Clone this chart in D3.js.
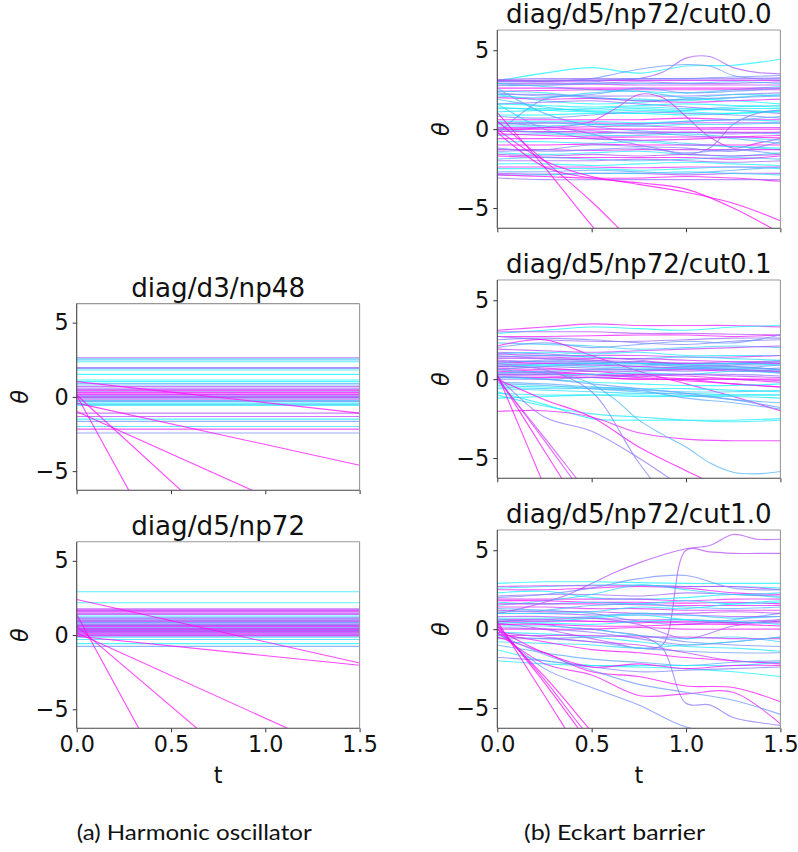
<!DOCTYPE html>
<html><head><meta charset="utf-8">
<script src="https://cdn.jsdelivr.net/npm/d3@7"></script>
<style>body{margin:0;background:#fff}svg{display:block}</style>
</head><body>
<svg id="chart" width="798" height="852"></svg>
<script>
// ---------- data ----------
const tTicks = [0, 0.5, 1.0, 1.5];
const thetaTicks = [-5, 0, 5];
const tDomain = [0, 1.5];
const thetaDomain = [-6.2832, 6.2832];
const titles = ["diag/d3/np48", "diag/d5/np72", "diag/d5/np72/cut0.0", "diag/d5/np72/cut0.1", "diag/d5/np72/cut1.0"];
const captions = ["(a) Harmonic oscillator", "(b) Eckart barrier"];
const xLabel = "t", yLabel = "θ";

// Harmonic oscillator: straight trajectories [colour 0..1, θ(t=0), θ(t=1.5)]
const hoD3np48 = [
 [0.65,2.63,2.63],[0.3,2.48,2.48],[0.05,2.37,2.37],[0.15,2.55,2.55],[0.45,1.92,1.92],[0.6,1.97,1.97],
 [0.1,1.81,1.81],[0.05,1.52,1.52],[0.0,1.14,1.14],[0.05,1.03,1.03],[0.3,0.9,0.9],[0.35,0.80,0.80],
 [0.7,0.69,0.69],[0.6,0.58,0.58],[0.75,0.5,0.5],[0.9,0.42,0.42],[0.55,0.35,0.35],[0.95,0.29,0.29],
 [1.0,0.20,0.20],[0.85,0.15,0.15],[0.6,0.11,0.11],[0.95,0.02,0.02],[0.4,0.0,0.0],[0.8,-0.05,-0.05],
 [0.5,-0.09,-0.09],[0.7,-0.20,-0.20],[0.25,-0.25,-0.25],[0.45,-0.31,-0.31],[0.05,-0.42,-0.42],
 [0.2,-0.5,-0.5],[0.1,-0.58,-0.58],[0.7,-1.09,-1.09],[0.75,-1.32,-1.32],[0.05,-1.50,-1.50],
 [0.4,-1.65,-1.65],[0.15,-1.99,-1.99],[0.9,-2.17,-2.17],[0.45,-2.43,-2.43],
 [1,1.03,-1.09],[1,-0.42,-4.60],[1,-0.98,-9.54],[1,0.13,-17.3],[1,0.10,-34.6]
];
const hoD5np72 = [
 [0.1,2.92,2.92],[0.05,2.18,2.18],[0.75,1.77,1.77],[0.65,1.7,1.7],[0.85,1.66,1.66],[0.65,1.6,1.6],
 [1.0,1.55,1.55],[0.7,1.46,1.46],[0.75,1.38,1.38],[0.05,1.28,1.28],[0.6,1.20,1.20],[0.2,1.15,1.15],
 [0.8,1.10,1.10],[0.4,1.02,1.02],[0.65,1.0,1.0],[0.7,0.95,0.95],[0.55,0.9,0.9],[0.9,0.88,0.88],
 [0.25,0.85,0.85],[0.5,0.80,0.80],[0.65,0.72,0.72],[0.3,0.68,0.68],[0.55,0.65,0.65],[0.9,0.62,0.62],
 [0.85,0.58,0.58],[0.35,0.50,0.50],[0.85,0.45,0.45],[0.7,0.42,0.42],[0.5,0.38,0.38],[0.95,0.35,0.35],
 [0.6,0.3,0.3],[0.6,0.28,0.28],[0.75,0.25,0.25],[0.8,0.20,0.20],[0.45,0.15,0.15],[1.0,0.12,0.12],
 [0.7,0.05,0.05],[0.6,0.0,0.0],[0.9,-0.02,-0.02],[0.55,-0.08,-0.08],[0.15,-0.15,-0.15],
 [0.15,-0.30,-0.30],[0.05,-0.58,-0.58],[0.4,-0.76,-0.76],
 [1,2.40,-1.88],[1,-0.08,-2.04],[1,1.39,-33.6],[1,0.6,-15.6],[1,0.15,-8.48]
];

// Eckart barrier: [colour 0..1, θ at evenly spaced t from 0 to 1.5]
const ekCut00 = [
 [0.05,3.06,3.55,3.9,3.55,4.0,4.05,4.43],
 [0.65,3.1,3.1,3.0,3.0,3.0,3.1,3.2,3.6,4.5,4.6,3.9,3.6,3.5],
 [0.4,3.0,3.0,3.0,3.1,3.2,3.5,3.8,4.0,4.1,4.0,3.4,3.2,3.2],
 [0.7,3.1,3.1,3.1,3.1,3.1,3.1,3.1],
 [0.85,3.05,3.05,3.1,3.1,3.1,3.1,3.1],
 [0.6,3.15,3.2,3.2,3.2,3.2,3.2,3.25],
 [0.45,3.0,3.1,3.1,3.2,3.2,3.3,3.4],
 [0.65,2.9,2.9,2.9,3.0,2.9,2.9,3.0],
 [0.1,2.9,2.7,2.5,2.4,2.3,2.5,2.7],
 [0.75,2.8,2.8,2.85,2.8,2.8,2.8,2.8],
 [0.3,2.75,2.8,2.9,2.9,2.9,3.0,2.9],
 [0.95,2.6,2.6,2.6,2.6,2.6,2.6,2.6],
 [0.9,2.4,2.45,2.5,2.5,2.5,2.5,2.5],
 [0.15,2.4,2.3,2.0,1.9,1.8,2.0,2.2],
 [0.4,2.3,2.1,2.2,2.6,2.3,2.4,2.6],
 [0.55,2.2,2.2,2.1,2.1,2.1,2.2,2.3],
 [0.05,2.2,1.8,1.6,1.7,1.9,1.8,1.6],
 [0.2,2.1,2.0,2.3,2.4,2.0,2.2,2.1],
 [0.9,2.0,1.9,1.95,1.8,1.7,1.8,1.9],
 [0.2,1.9,1.4,1.1,1.0,1.2,1.4,1.5],
 [0.6,1.6,1.7,1.8,1.6,1.4,1.2,1.0],
 [0.05,1.6,1.5,1.4,1.5,1.6,1.5,1.4],
 [0.0,1.4,1.2,1.1,1.2,1.1,1.0,1.2],
 [0.1,1.3,1.3,1.2,1.3,1.2,1.3,1.3],
 [0.1,1.1,1.2,1.3,1.4,1.3,1.2,1.1],
 [0.0,0.9,0.9,1.0,1.0,0.9,1.0,1.1],
 [0.45,0.8,0.7,0.9,1.1,1.0,0.9,0.7],
 [0.3,2.6,1.0,0.2,-0.1,-0.2,-0.2,-0.3],
 [0.2,1.6,0.0,-0.6,-0.7,-0.9,-1.1,-1.3],
 [0.4,-0.3,1.9,2.0,1.8,1.9,2.0,2.1],
 [1.0,0.6,0.6,0.6,0.6,0.7,0.6,0.6],
 [0.05,0.5,0.5,0.5,0.4,0.5,0.6,0.5],
 [0.75,0.4,0.4,0.4,0.35,0.4,0.4,0.4],
 [0.8,0.0,0.0,0.1,0.2,0.5,1.3,2.2,2.0,0.8,-0.5,-1.2,-0.9,-0.6],
 [0.5,0.4,0.3,0.2,0.0,-0.3,-0.7,-1.0,-1.3,-1.6,-1.2,0.3,1.0,1.2],
 [1.0,0.0,0.0,0.0,0.0,0.0,0.0,0.0],
 [0.8,0.1,0.1,0.15,0.2,0.1,0.1,0.1],
 [0.35,0.3,0.4,0.3,0.3,0.5,0.6,0.8],
 [0.15,0.2,0.2,0.3,0.2,0.3,0.3,0.4],
 [0.95,-0.15,-0.15,-0.2,-0.2,-0.2,-0.2,-0.2],
 [0.3,0.0,-0.2,-0.3,-0.2,-0.4,-0.6,-0.9],
 [0.6,-0.1,-0.2,-0.1,-0.3,-0.2,-0.3,-0.2],
 [0.2,-0.4,-0.3,-0.4,-0.4,-0.3,-0.5,-0.7],
 [1.0,-0.3,-0.4,-0.5,-0.5,-0.5,-0.5,-0.55],
 [0.9,-0.6,-0.6,-0.6,-0.7,-0.65,-0.5,-0.4],
 [0.1,-0.8,-0.8,-0.9,-0.8,-1.0,-1.1,-1.2],
 [1.0,-1.0,-1.0,-0.95,-1.0,-1.0,-1.0,-1.0],
 [0.85,-1.3,-1.3,-1.35,-1.3,-1.3,-1.3,-1.3],
 [0.5,-1.4,-1.3,-1.0,-1.1,-1.2,-1.4,-0.8],
 [0.45,-1.2,-1.4,-1.3,-1.2,-1.5,-1.3,-1.6],
 [0.1,-1.5,-1.6,-1.5,-1.4,-1.6,-1.7,-1.5],
 [0.7,-1.6,-1.7,-1.6,-1.7,-1.6,-1.7,-1.6],
 [0.95,-1.7,-1.8,-1.8,-1.8,-1.8,-1.9,-1.7],
 [0.25,-1.9,-1.8,-1.9,-2.0,-1.9,-1.8,-1.9],
 [0.6,-2.0,-2.0,-2.0,-1.9,-2.0,-2.1,-2.0],
 [0.05,-2.2,-2.2,-2.3,-2.2,-2.1,-2.2,-2.3],
 [0.9,-2.4,-2.4,-2.4,-2.45,-2.4,-2.4,-2.4],
 [0.1,-2.5,-2.5,-2.5,-2.6,-2.5,-2.4,-2.5],
 [0.35,-2.7,-2.7,-2.6,-2.7,-2.8,-2.6,-2.4],
 [0.7,-2.8,-2.85,-2.8,-2.8,-2.9,-2.8,-2.8],
 [0.15,-2.9,-2.9,-2.8,-2.8,-2.7,-2.8,-2.9],
 [1.0,-2.9,-3.0,-3.1,-3.1,-3.0,-3.1,-3.3],
 [0.6,-3.1,-3.2,-3.2,-3.2,-3.2,-3.2,-3.2],
 [1.0,0.0,-2.0,-3.0,-3.5,-4.0,-4.7,-5.8],
 [1.0,-0.2,-2.4,-3.1,-3.4,-3.8,-5.0,-6.6],
 [1.0,1.05,-2.4,-6.1,-9.5,-13,-16,-19],
 [1.0,0.5,-2.0,-4.6,-7.5,-10,-13,-16]
];
const ekCut01 = [
 [0.9,3.1,3.3,3.5,3.4,3.4,3.4,3.3],
 [0.05,2.9,3.1,3.3,3.2,3.1,3.3,3.4],
 [0.7,3.0,3.0,3.0,2.9,2.9,2.85,2.8],
 [0.95,2.7,2.7,2.75,2.8,2.8,2.7,2.8],
 [0.6,2.7,2.5,2.4,2.4,2.5,2.6,2.6],
 [0.5,2.5,2.6,2.5,2.3,2.2,2.4,2.5],
 [0.2,2.3,2.2,2.1,1.9,2.0,2.1,2.0],
 [0.4,2.0,2.3,2.0,2.2,2.4,2.3,2.8],
 [1.0,2.1,2.5,1.5,0.5,-0.3,-1.1,-2.0],
 [0.75,1.9,1.8,1.7,1.8,1.9,2.0,2.1],
 [0.6,1.7,1.6,1.4,1.2,0.9,0.8,0.6],
 [0.1,1.6,1.7,1.6,1.7,1.5,1.5,1.5],
 [0.8,1.6,1.5,1.5,1.5,1.4,1.4,1.5],
 [0.45,1.5,1.3,1.2,1.0,1.0,1.0,1.2],
 [0.15,1.4,1.5,1.4,1.3,1.4,1.3,1.2],
 [0.85,1.4,1.4,1.3,1.3,1.2,1.1,1.0],
 [0.7,1.3,1.3,1.2,1.1,1.0,1.1,1.1],
 [0.6,1.2,1.1,1.1,1.0,0.9,0.9,0.9],
 [0.3,1.1,1.1,1.0,0.8,0.7,0.8,0.6],
 [0.95,1.1,1.0,0.9,0.8,0.7,0.6,0.4],
 [0.2,1.0,0.9,0.8,0.7,0.7,0.6,0.5],
 [0.45,1.0,1.2,1.1,1.0,0.8,0.9,1.1],
 [0.5,0.9,0.8,0.7,0.6,0.5,0.6,0.7],
 [0.7,0.9,1.0,1.0,1.1,1.0,1.0,1.0],
 [0.05,0.8,0.9,1.0,1.0,0.9,1.0,0.9],
 [0.9,0.8,0.7,0.5,0.3,0.2,0.0,-0.2],
 [0.9,0.7,0.6,0.6,0.6,0.6,0.5,0.5],
 [1.0,0.6,0.5,0.3,0.1,-0.1,-0.3,-0.5],
 [0.35,0.6,0.8,0.9,0.9,0.8,0.7,0.9],
 [0.95,0.5,0.4,0.3,0.2,0.0,-0.3,-0.5],
 [0.65,0.4,0.4,0.5,0.5,0.6,0.6,0.5],
 [0.25,0.4,0.5,0.6,0.6,0.7,0.7,0.6],
 [0.1,0.3,0.3,0.3,0.4,0.3,0.5,0.4],
 [0.75,0.3,0.3,0.2,0.3,0.3,0.2,0.1],
 [0.8,0.2,0.2,0.1,0.0,0.0,0.0,-0.1],
 [1.0,0.1,0.1,0.1,0.0,0.0,0.0,0.0],
 [0.05,0.1,0.0,-0.2,-0.3,-0.4,-0.4,-0.3],
 [0.55,0.0,0.0,0.1,0.2,0.3,0.3,0.2],
 [0.05,-0.4,-0.5,-0.5,-0.6,-0.6,-0.7,-0.8],
 [0.2,-0.5,-0.6,-0.6,-0.7,-0.8,-0.8,-0.7],
 [0.15,-0.6,-0.7,-0.8,-0.9,-0.9,-1.0,-1.0],
 [0.1,-0.9,-1.0,-1.0,-1.1,-1.1,-1.1,-1.2],
 [0.05,-1.2,-1.1,-1.0,-1.0,-1.05,-1.0,-1.0],
 [0.3,-0.3,-0.4,-0.6,-0.8,-1.0,-1.3,-1.5],
 [0.4,0.2,0.0,-0.3,-0.6,-0.9,-1.3,-1.8],
 [0.35,-0.2,-0.3,-0.5,-0.7,-1.2,-1.5,-1.9],
 [0.05,-0.8,-1.6,-2.5,-2.6,-2.6,-2.6,-2.5],
 [0.1,-1.0,-1.7,-2.2,-2.4,-2.6,-2.7,-2.6],
 [0.9,-2.05,-2.0,-2.4,-3.4,-3.8,-3.9,-3.9],
 [1.0,0.0,-1.3,-2.4,-4.3,-5.8,-7.2,-8.5],
 [0.55,0.2,-2.4,-3.3,-5.0,-7,-9,-11],
 [0.3,0.6,0.5,0.4,0.2,-0.3,-1.3,-2.6,-3.5,-4.3,-5.3,-5.9,-6.0,-5.85],
 [0.5,0.8,0.6,-0.8,-5.3,-9,-12,-15],
 [1.0,0.3,-6.8,-14,-21,-28,-35,-42],
 [1.0,0.2,-4.55,-9.3,-14,-19,-24,-28],
 [0.85,0.1,-3.9,-8,-12,-16,-20,-24],
 [0.8,0.0,-3.7,-7.5,-11,-15,-19,-22]
];
const ekCut10 = [
 [0.7,1.0,1.3,1.7,2.2,2.9,3.6,4.2,4.7,5.1,5.3,6.0,5.7,5.7],
 [0.7,0.4,0.2,0.0,-0.3,-0.6,-0.9,-1.2,-1.0,5.0,4.9,4.8,4.8,4.8],
 [0.55,0.5,0.4,0.3,0.1,0.0,-0.2,-0.4,-1.2,-4.7,-4.8,-5.6,-5.9,-6.1],
 [0.05,2.9,3.0,3.0,2.95,2.9,2.9,2.9],
 [0.1,2.6,2.7,2.8,2.8,2.7,2.7,2.6],
 [0.8,2.7,2.75,2.75,2.75,2.7,2.7,2.5],
 [0.9,2.5,2.5,2.6,2.7,2.6,2.3,2.2],
 [0.05,2.3,2.4,2.0,1.9,2.0,2.2,2.0],
 [0.6,2.1,2.2,2.2,2.1,2.3,2.2,2.1],
 [0.45,2.0,2.2,2.6,3.2,3.4,2.6,2.5],
 [0.85,1.9,1.9,1.9,1.9,1.8,1.9,1.9],
 [0.15,1.5,1.8,2.2,2.8,2.5,2.2,2.3],
 [1.0,1.8,1.8,1.7,1.7,1.65,1.7,1.6],
 [0.05,1.7,1.6,1.7,1.6,1.8,1.6,1.7],
 [0.9,1.6,1.6,1.6,1.55,1.5,1.5,1.5],
 [0.85,1.4,1.4,1.3,1.3,1.2,1.2,1.2],
 [0.35,1.3,1.2,1.0,0.5,0.3,0.6,1.0],
 [0.75,1.2,1.1,1.1,1.0,1.0,1.1,1.0],
 [0.3,1.1,1.2,1.5,1.6,1.4,1.3,1.4],
 [0.65,1.0,1.0,0.9,0.9,0.9,0.8,0.8],
 [0.1,1.0,1.0,1.1,1.4,1.3,1.6,1.8],
 [0.7,0.8,0.8,0.7,0.6,0.6,0.5,0.6],
 [0.2,0.7,0.7,0.8,1.0,0.9,0.7,0.8],
 [0.8,0.6,0.6,0.5,0.5,0.4,0.4,0.4],
 [0.05,0.6,0.5,0.7,0.9,0.6,0.4,0.5],
 [0.95,0.5,0.5,0.5,0.4,0.5,0.4,0.5],
 [0.6,0.5,0.6,0.7,0.3,-0.6,0.2,0.6],
 [0.05,0.4,0.4,0.3,0.5,0.6,0.5,0.3],
 [1.0,0.3,0.3,0.2,0.2,0.3,0.3,0.2],
 [0.2,0.2,0.2,0.0,-0.4,-0.6,-0.5,-0.8],
 [0.55,0.1,0.0,-0.2,-0.6,-1.0,-0.8,-0.5],
 [0.9,0.0,0.0,0.0,0.1,0.0,0.0,0.0],
 [0.1,-0.2,-0.3,-0.5,-0.8,-1.1,-1.2,-1.4],
 [0.8,-0.4,-0.4,-0.4,-0.5,-0.5,-0.6,-0.6],
 [0.45,-0.6,-0.6,-0.5,-0.4,-0.8,-1.0,-1.1],
 [0.4,-0.5,-0.6,-0.8,-1.2,-1.4,-1.5,-1.5],
 [0.15,-0.8,-0.9,-1.0,-1.2,-1.0,-0.8,-0.5],
 [0.75,-0.2,-0.5,-0.8,-1.0,-1.5,-2.0,-2.1],
 [0.95,-0.3,-0.8,-1.3,-1.5,-1.8,-2.0,-2.2],
 [0.35,-1.0,-1.5,-1.9,-2.1,-2.3,-2.1,-2.0],
 [0.05,-1.3,-2.0,-2.3,-2.4,-2.5,-2.7,-3.0],
 [0.1,-2.0,-2.2,-2.3,-2.3,-2.3,-2.3,-2.1],
 [0.5,-1.8,-2.0,-2.4,-2.7,-2.6,-2.5,-2.4],
 [1.0,0.0,-1.5,-2.4,-2.2,-2.5,-2.3,-2.3],
 [0.9,-0.2,-2.2,-2.9,-4.2,-4.1,-4.0,-6.0],
 [1.0,-0.5,-1.5,-2.7,-3.0,-3.6,-3.7,-4.6],
 [0.45,0.0,-2.5,-3.7,-4.8,-6.2,-6.5,-6.6],
 [0.4,-0.3,-1.6,-2.6,-3.5,-4.0,-4.5,-5.4],
 [1.0,0.5,-4.2,-8.9,-13,-18,-23,-28],
 [1.0,0.3,-3.4,-7.4,-11,-15,-19,-23],
 [0.9,0.2,-3.2,-7.0,-10,-14,-18,-22],
 [1.0,0.0,-3.0,-6.5,-10,-13,-17,-20]
];

// ---------- drawing ----------
const svg = d3.select("#chart");
const FONT = "'DejaVu Sans', sans-serif";
const colour = d3.interpolateRgb("#00ffff", "#ff00ff"); // matplotlib 'cool'

const panels = [
  {data: hoD3np48, title: titles[0], x0: 76.7, x1: 359.6, y0: 303.6, y1: 490.2, xlab: false, col: 0, curve: d3.curveLinear},
  {data: hoD5np72, title: titles[1], x0: 76.7, x1: 359.6, y0: 541.8, y1: 728.3, xlab: true, col: 0, curve: d3.curveLinear},
  {data: ekCut00, title: titles[2], x0: 497.3, x1: 780.4, y0: 30.0, y1: 228.3, xlab: false, col: 1, curve: d3.curveCatmullRom},
  {data: ekCut01, title: titles[3], x0: 497.3, x1: 780.4, y0: 280.0, y1: 478.3, xlab: false, col: 1, curve: d3.curveCatmullRom},
  {data: ekCut10, title: titles[4], x0: 497.3, x1: 780.4, y0: 530.0, y1: 728.3, xlab: true, col: 1, curve: d3.curveCatmullRom}
];
const defs = svg.append("defs");

panels.forEach((p, i) => {
  const x = d3.scaleLinear().domain(tDomain).range([p.x0, p.x1]);
  const y = d3.scaleLinear().domain(thetaDomain).range([p.y1, p.y0]);
  const cid = "clip" + i;
  defs.append("clipPath").attr("id", cid).append("rect")
    .attr("x", p.x0).attr("y", p.y0).attr("width", p.x1 - p.x0).attr("height", p.y1 - p.y0);

  const line = d3.line().x(d => x(d[0])).y(d => y(d[1])).curve(p.curve);
  svg.append("g").attr("clip-path", `url(#${cid})`)
    .selectAll("path").data(p.data).join("path")
    .attr("d", d => {
      const v = d.slice(1);
      return line(v.map((val, k) => [tDomain[1] * k / (v.length - 1), val]));
    })
    .attr("fill", "none")
    .attr("stroke", d => colour(d[0]))
    .attr("stroke-width", 1.1)
    .attr("stroke-opacity", 0.72);

  // axes
  const yAxis = d3.axisLeft(y).tickValues(thetaTicks).tickSize(4).tickPadding(4).tickFormat(d3.format("d"));
  const gy = svg.append("g").attr("transform", `translate(${p.x0},0)`).call(yAxis);
  const xAxis = d3.axisBottom(x).tickValues(tTicks).tickSize(4).tickPadding(4).tickFormat(d3.format(".1f"));
  const gx = svg.append("g").attr("transform", `translate(0,${p.y1})`).call(xAxis);
  [gx, gy].forEach(g => {
    g.select(".domain").remove();
    g.selectAll(".tick line").attr("stroke", "#333").attr("stroke-width", 1);
    g.selectAll(".tick text").attr("fill", "#111").style("font-family", FONT).style("font-size", "22.3px");
  });
  if (!p.xlab) gx.selectAll(".tick text").remove();

  // spines
  svg.append("line").attr("x1", p.x0).attr("x2", p.x1).attr("y1", p.y0).attr("y2", p.y0).attr("stroke", "#999").attr("stroke-width", 1.1);
  svg.append("line").attr("x1", p.x1).attr("x2", p.x1).attr("y1", p.y0).attr("y2", p.y1).attr("stroke", "#999").attr("stroke-width", 1.1);
  svg.append("line").attr("x1", p.x0).attr("x2", p.x0).attr("y1", p.y0).attr("y2", p.y1).attr("stroke", "#444").attr("stroke-width", 1.1);
  svg.append("line").attr("x1", p.x0).attr("x2", p.x1).attr("y1", p.y1).attr("y2", p.y1).attr("stroke", "#444").attr("stroke-width", 1.1);

  // title
  svg.append("text").attr("x", (p.x0 + p.x1) / 2).attr("y", p.y0 - 6.8)
    .attr("text-anchor", "middle").style("font-family", FONT).style("font-size", "26.2px").attr("fill", "#111")
    .text(p.title);

  // y label
  const lx = p.col === 0 ? 28 : 448.5;
  svg.append("text").attr("transform", `translate(${lx},${(p.y0 + p.y1) / 2}) rotate(-90)`)
    .attr("text-anchor", "middle").style("font-family", FONT).style("font-size", "22.3px").style("font-style", "italic")
    .attr("fill", "#111").text(yLabel);

  if (p.xlab) {
    svg.append("text").attr("x", (p.x0 + p.x1) / 2).attr("y", p.y1 + 55)
      .attr("text-anchor", "middle").style("font-family", FONT).style("font-size", "22.3px").attr("fill", "#111")
      .text(xLabel);
  }
});

// captions
const capPos = [{cx: 194.2, w: 235}, {cx: 614.5, w: 181}];
captions.forEach((c, i) => {
  svg.append("text").attr("x", capPos[i].cx - capPos[i].w / 2).attr("y", 840)
    .attr("textLength", capPos[i].w).attr("lengthAdjust", "spacingAndGlyphs")
    .style("font-family", "Lato, 'DejaVu Sans', sans-serif").style("font-size", "21px").attr("fill", "#111")
    .text(c);
});
</script>
</body></html>
